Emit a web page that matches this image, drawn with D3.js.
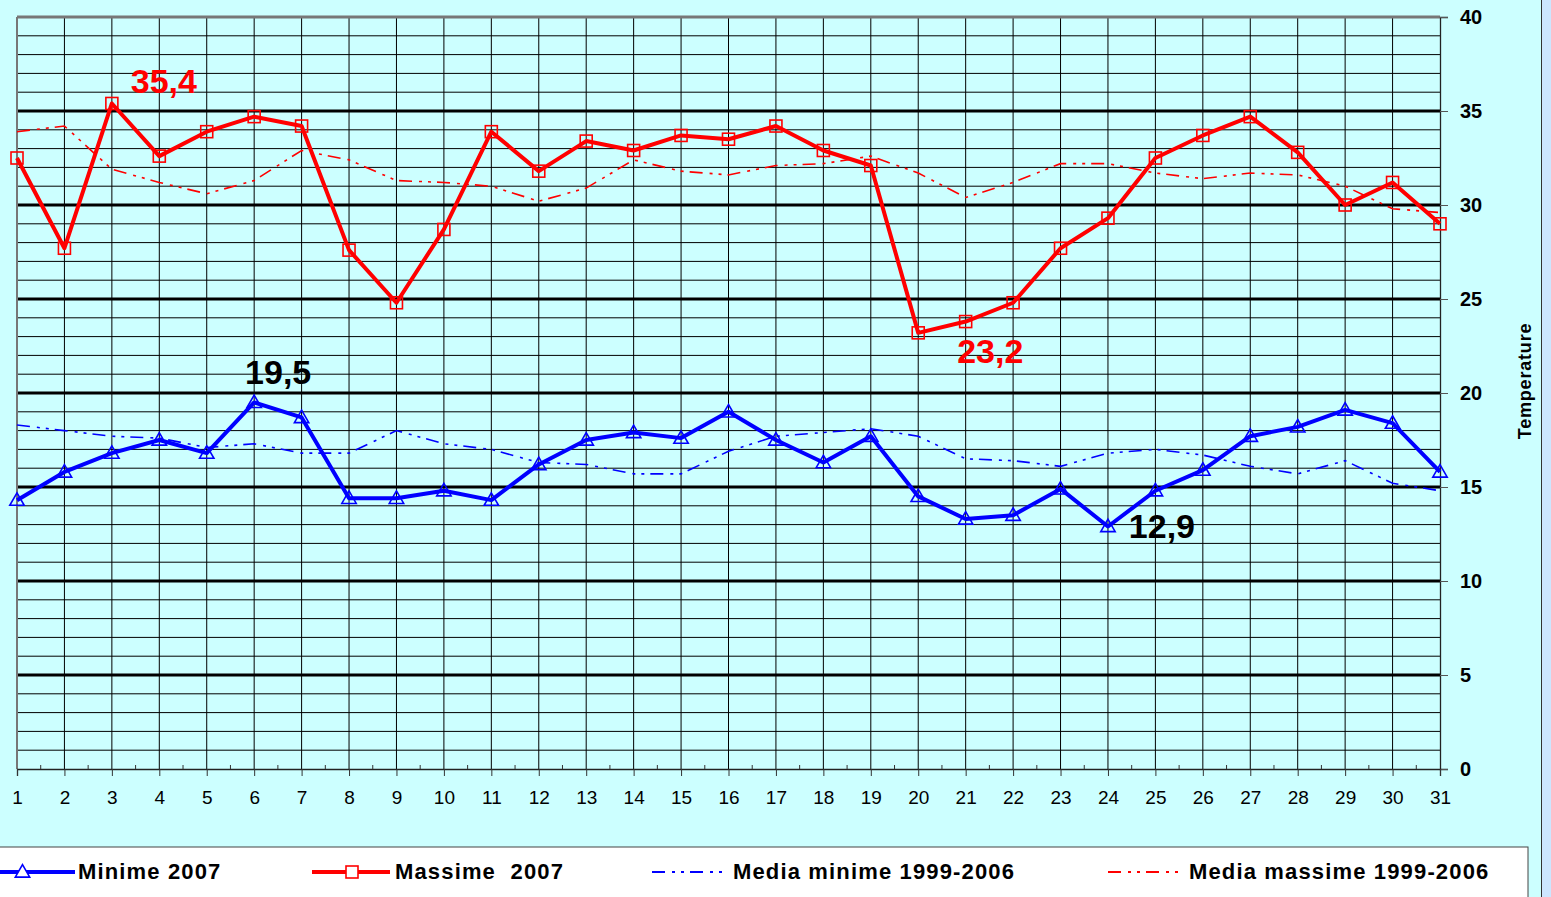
<!DOCTYPE html>
<html><head><meta charset="utf-8">
<script src="https://cdn.jsdelivr.net/npm/d3@7"></script>
<style>
html,body{margin:0;padding:0;background:#CCFFFF;overflow:hidden;}
svg{display:block;}
</style></head>
<body>
<svg id="c" width="1551" height="897"></svg>
<script>
const days = d3.range(1, 32);
const minime2007 = [14.3,15.8,16.8,17.5,16.8,19.5,18.7,14.4,14.4,14.8,14.3,16.2,17.5,17.9,17.6,19.0,17.5,16.3,17.7,14.5,13.3,13.5,14.9,12.9,14.8,15.9,17.7,18.2,19.1,18.4,15.8];
const massime2007 = [32.5,27.7,35.4,32.6,33.9,34.7,34.2,27.6,24.8,28.7,33.9,31.8,33.4,32.9,33.7,33.5,34.2,32.9,32.1,23.2,23.8,24.8,27.7,29.3,32.5,33.7,34.7,32.8,30.0,31.2,29.0];
const mediaMinime = [18.3,18.0,17.7,17.6,17.1,17.3,16.8,16.8,18.0,17.3,17.0,16.3,16.2,15.7,15.7,16.9,17.7,17.9,18.1,17.7,16.5,16.4,16.1,16.8,17.0,16.7,16.1,15.7,16.4,15.2,14.8];
const mediaMassime = [33.9,34.2,31.9,31.2,30.6,31.3,32.9,32.4,31.3,31.2,31.0,30.2,30.9,32.4,31.8,31.6,32.1,32.2,32.6,31.7,30.4,31.2,32.2,32.2,31.7,31.4,31.7,31.6,31.0,29.8,29.6];
const yTicks = [0,5,10,15,20,25,30,35,40];
const seriesNames = ["Minime 2007","Massime  2007","Media minime 1999-2006","Media massime 1999-2006"];
const annotations = [
  {day:3, value:35.4, text:"35,4", color:"#FF0000", dx:52, dy:-19},
  {day:6, value:19.5, text:"19,5", color:"#000000", dx:24, dy:-27},
  {day:20, value:23.2, text:"23,2", color:"#FF0000", dx:72, dy:21},
  {day:24, value:12.9, text:"12,9", color:"#000000", dx:54, dy:3}
];

const svg = d3.select("#c");
const W = 1551, H = 897;
const x = d3.scaleLinear().domain([1,31]).range([17,1440]);
const y = d3.scaleLinear().domain([0,40]).range([769,17]);
const narrow = "'Liberation Sans Narrow','Arial Narrow','Liberation Sans',Arial,sans-serif";
const sans = "'Liberation Sans',Arial,sans-serif";

// background
svg.append("rect").attr("x",0).attr("y",0).attr("width",W).attr("height",H).attr("fill","#CCFFFF");
svg.append("rect").attr("x",1542).attr("y",0).attr("width",9).attr("height",H).attr("fill","#CCE6FF");
svg.append("line").attr("x1",1541.5).attr("x2",1541.5).attr("y1",0).attr("y2",H).attr("stroke","#333").attr("stroke-width",1);

const g = svg.append("g");
// horizontal grid: every unit
const gridVals = d3.range(0,41,1);
g.selectAll("line.hg").data(gridVals.filter(v=>v%5!==0)).join("line")
  .attr("x1",x(1)).attr("x2",x(31)).attr("y1",d=>y(d)).attr("y2",d=>y(d))
  .attr("stroke","#000").attr("stroke-width",1);
// vertical grid
g.selectAll("line.vg").data(days.slice(1,30)).join("line")
  .attr("x1",d=>x(d)).attr("x2",d=>x(d)).attr("y1",y(40)).attr("y2",y(0))
  .attr("stroke","#000").attr("stroke-width",1);
// major horizontal
g.selectAll("line.hm").data(yTicks.filter(v=>v>0&&v<40)).join("line")
  .attr("x1",x(1)).attr("x2",x(31)).attr("y1",d=>y(d)).attr("y2",d=>y(d))
  .attr("stroke","#000").attr("stroke-width",3.2);
// plot borders
g.append("line").attr("x1",x(1)).attr("x2",x(31)).attr("y1",y(40)).attr("y2",y(40)).attr("stroke","#777").attr("stroke-width",3);
g.append("line").attr("x1",x(1)).attr("x2",x(1)).attr("y1",y(40)).attr("y2",y(0)).attr("stroke","#777").attr("stroke-width",2);

// right axis
const yAxis = d3.axisRight(y).tickValues(yTicks).tickSize(8).tickPadding(12).tickFormat(d3.format("d"));
const ya = svg.append("g").attr("transform",`translate(${x(31)},0)`).call(yAxis);
ya.select(".domain").attr("stroke","#222").attr("stroke-width",1.3);
ya.selectAll(".tick line").attr("stroke","#555").attr("stroke-width",1);
ya.selectAll(".tick text").attr("font-family",sans).attr("font-weight","bold").attr("font-size",20).attr("fill","#000");

// bottom axis
const xAxis = d3.axisBottom(x).tickValues(days).tickSize(7).tickPadding(15).tickFormat(d3.format("d"));
const xa = svg.append("g").attr("transform",`translate(0,${y(0)})`).call(xAxis);
xa.select(".domain").attr("stroke","#222").attr("stroke-width",1.3);
xa.selectAll(".tick line").attr("stroke","#333");
xa.selectAll(".tick text").attr("font-family",narrow).attr("font-size",19).attr("fill","#000");
// minor half-day ticks
svg.append("g").selectAll("line").data(d3.range(1.5,31,1)).join("line")
  .attr("x1",d=>x(d)).attr("x2",d=>x(d)).attr("y1",y(0)).attr("y2",y(0)-4)
  .attr("stroke","#333").attr("stroke-width",1);

// Temperature label
svg.append("text").attr("transform","translate(1531,381) rotate(-90)")
  .attr("text-anchor","middle").attr("font-family",sans).attr("font-weight","bold")
  .attr("font-size",18).attr("letter-spacing",0.8).text("Temperature");

const line = d3.line().x((d,i)=>x(days[i])).y(d=>y(d));
const dashPat = "13,7,3,6,3,6";

// averages
svg.append("path").datum(mediaMinime).attr("d",line).attr("fill","none")
  .attr("stroke","#0000FF").attr("stroke-width",1.6).attr("stroke-dasharray",dashPat);
svg.append("path").datum(mediaMassime).attr("d",line).attr("fill","none")
  .attr("stroke","#FF0000").attr("stroke-width",1.6).attr("stroke-dasharray",dashPat);

// 2007 lines
svg.append("path").datum(massime2007).attr("d",line).attr("fill","none")
  .attr("stroke","#FF0000").attr("stroke-width",4).attr("stroke-linejoin","round");
svg.append("path").datum(minime2007).attr("d",line).attr("fill","none")
  .attr("stroke","#0000FF").attr("stroke-width",4).attr("stroke-linejoin","round");

const sq = 12;
svg.append("g").selectAll("rect").data(massime2007).join("rect")
  .attr("x",(d,i)=>x(days[i])-sq/2).attr("y",d=>y(d)-sq/2).attr("width",sq).attr("height",sq)
  .attr("fill","none").attr("stroke","#FF0000").attr("stroke-width",1.6);
const tri = d3.symbol().type(d3.symbolTriangle).size(90);
svg.append("g").selectAll("path").data(minime2007).join("path")
  .attr("transform",(d,i)=>`translate(${x(days[i])},${y(d)+1})`).attr("d",tri)
  .attr("fill","none").attr("stroke","#0000FF").attr("stroke-width",1.6);

// annotations
svg.append("g").selectAll("text").data(annotations).join("text")
  .attr("x",d=>x(d.day)+d.dx).attr("y",d=>y(d.value)+d.dy)
  .attr("text-anchor","middle").attr("dominant-baseline","middle")
  .attr("font-family",sans).attr("font-weight","bold").attr("font-size",34)
  .attr("fill",d=>d.color).text(d=>d.text);

// legend
const lg = svg.append("g");
lg.append("rect").attr("x",-1).attr("y",847).attr("width",1529).attr("height",60)
  .attr("fill","#FFFFFF").attr("stroke","#444").attr("stroke-width",1);
const legendItems = [
  {name:seriesNames[0], color:"#0000FF", x0:0, x1:75, tx:78, marker:"tri", dash:null, w:4},
  {name:seriesNames[1], color:"#FF0000", x0:312, x1:390, tx:395, marker:"sq", dash:null, w:4},
  {name:seriesNames[2], color:"#0000FF", x0:652, x1:728, tx:733, marker:null, dash:dashPat, w:2},
  {name:seriesNames[3], color:"#FF0000", x0:1108, x1:1184, tx:1189, marker:null, dash:dashPat, w:2}
];
const ly = 872;
legendItems.forEach(it=>{
  lg.append("line").attr("x1",it.x0).attr("x2",it.x1).attr("y1",ly).attr("y2",ly)
    .attr("stroke",it.color).attr("stroke-width",it.w).attr("stroke-dasharray",it.dash);
  const mx = (it.x0+it.x1)/2;
  if(it.marker==="tri") lg.append("path").attr("transform",`translate(${mx-15},${ly+1})`).attr("d",tri)
    .attr("fill","#fff").attr("stroke",it.color).attr("stroke-width",1.6);
  if(it.marker==="sq") lg.append("rect").attr("x",mx-6+1).attr("y",ly-6).attr("width",12).attr("height",12)
    .attr("fill","#fff").attr("stroke",it.color).attr("stroke-width",1.6);
  lg.append("text").attr("x",it.tx).attr("y",ly+1).attr("dominant-baseline","middle")
    .attr("font-family",narrow).attr("font-weight","bold").attr("font-size",22)
    .attr("letter-spacing",1.15).attr("fill","#000").attr("xml:space","preserve")
    .style("white-space","pre").text(it.name);
});
</script>
</body></html>
